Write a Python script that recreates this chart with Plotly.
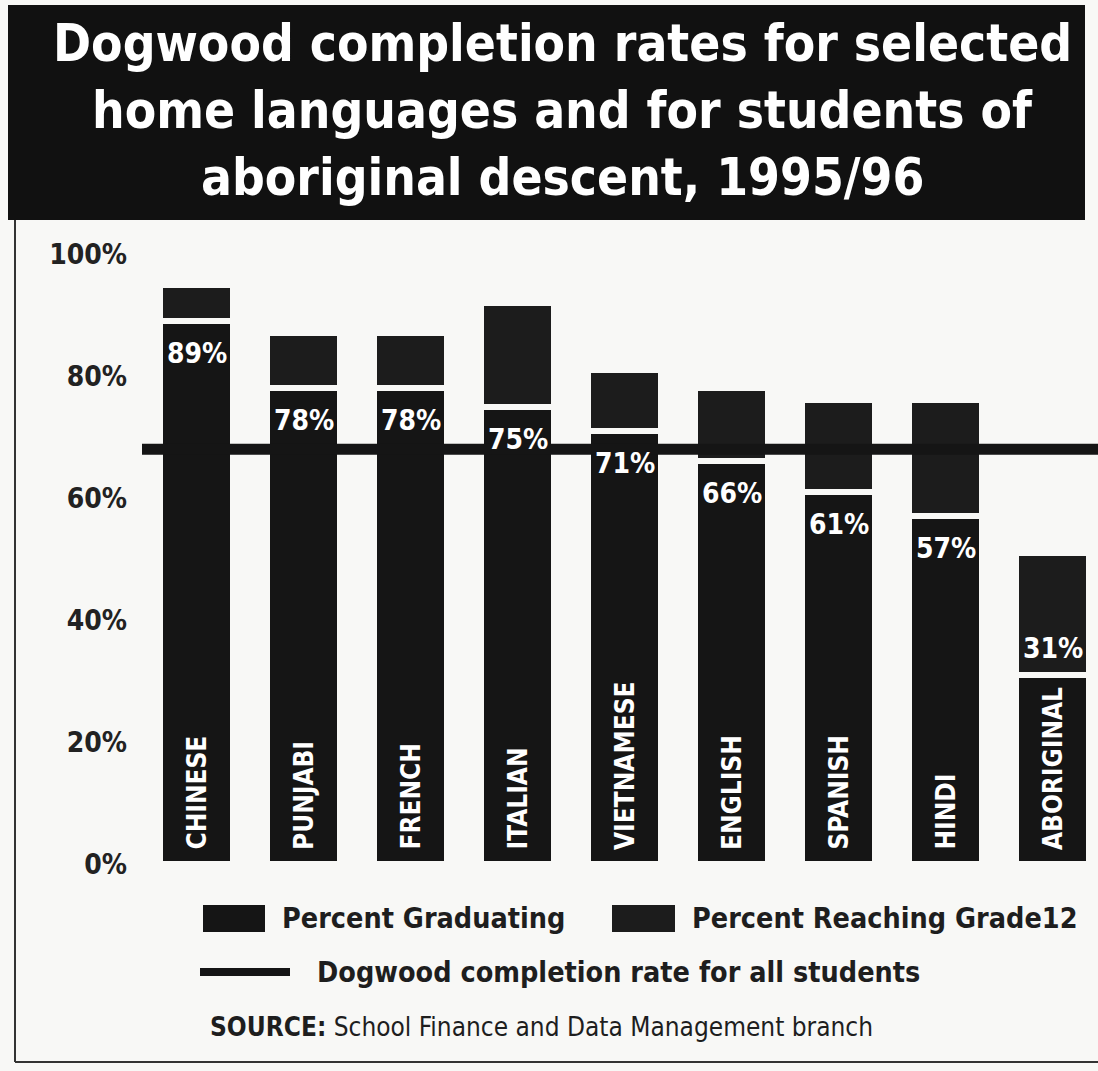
import plotly.graph_objects as go

# ---- data ----
categories = ["CHINESE", "PUNJABI", "FRENCH", "ITALIAN", "VIETNAMESE",
              "ENGLISH", "SPANISH", "HINDI", "ABORIGINAL"]
pct_graduating = [89, 78, 78, 75, 71, 66, 61, 57, 31]
pct_reaching_grade12 = [95, 87, 87, 92, 81, 78, 76, 76, 51]
dogwood_all_students = 68
y_ticks = [0, 20, 40, 60, 80, 100]
y_tick_labels = ["0%", "20%", "40%", "60%", "80%", "100%"]

title_lines = ["Dogwood completion rates for selected",
               "home languages and for students of",
               "aboriginal descent, 1995/96"]
legend_labels = ["Percent Graduating", "Percent Reaching Grade12",
                 "Dogwood completion rate for all students"]
source_text = "<b>SOURCE:</b> School Finance and Data Management branch"

# ---- styling ----
W, H = 1098, 1071
ML, MR, MT, MB = 142, 0, 230, 191
PW, PH = W - ML - MR, H - MT - MB
BG = "#f8f8f6"
INK = "#151515"
NARROW = "Liberation Sans Narrow, Arial Narrow, DejaVu Sans Condensed, sans-serif"

def px(x):
    return (x - ML) / PW

def py(y):
    return (H - MB - y) / PH

idx = list(range(len(categories)))
upper = [r - g for r, g in zip(pct_reaching_grade12, pct_graduating)]

fig = go.Figure()
fig.add_trace(go.Bar(
    x=idx, y=pct_graduating, width=0.69, name=legend_labels[0],
    marker=dict(color=INK, line=dict(color=BG, width=6)),
    customdata=categories,
    hovertemplate="%{customdata}: %{y}%<extra>Percent Graduating</extra>",
))
fig.add_trace(go.Bar(
    x=idx, y=upper, width=0.69, name=legend_labels[1],
    marker=dict(color="#1c1c1c", line=dict(color=BG, width=6)),
    customdata=list(zip(categories, pct_reaching_grade12)),
    hovertemplate="%{customdata[0]}: %{customdata[1]}%<extra>Percent Reaching Grade12</extra>",
))

# completion line for all students
fig.add_shape(type="line", xref="paper", yref="y", x0=0, x1=1,
              y0=dogwood_all_students, y1=dogwood_all_students,
              line=dict(color=INK, width=11), layer="above")

ann = []
# value labels
for i, g in zip(idx, pct_graduating):
    last = (i == len(idx) - 1)
    ann.append(dict(x=i, y=g, xref="x", yref="y", text=f"<b>{g}%</b>",
                    showarrow=False, yanchor="bottom" if last else "top",
                    yshift=8 if last else -14,
                    font=dict(family=NARROW, size=28, color="white")))
# category labels (vertical, inside bars)
for i, c in zip(idx, categories):
    ann.append(dict(x=i, y=0, xref="x", yref="y", text=f"<b>{c}</b>",
                    showarrow=False, textangle=-90, yanchor="bottom",
                    yshift=12, font=dict(family=NARROW, size=26, color="white")))
# title
for line, yc in zip(title_lines, [44, 110, 177]):
    ann.append(dict(x=px(562), y=py(yc), xref="paper", yref="paper",
                    text=f"<b>{line}</b>", showarrow=False,
                    xanchor="center", yanchor="middle",
                    font=dict(family=NARROW, size=51, color="white")))
# legend texts
for text, x0, yc in [(legend_labels[0], 280, 918), (legend_labels[1], 690, 918),
                     (legend_labels[2], 315, 972)]:
    ann.append(dict(x=px(x0), y=py(yc), xref="paper", yref="paper",
                    text=f"<b>{text}</b>", showarrow=False,
                    xanchor="left", yanchor="middle",
                    font=dict(family=NARROW, size=28.5, color="#1e1e1e")))
ann.append(dict(x=px(208), y=py(1027), xref="paper", yref="paper",
                text=source_text, showarrow=False, xanchor="left", yanchor="middle",
                font=dict(family=NARROW, size=26, color="#1e1e1e")))

shapes = [
    # title band
    dict(type="rect", xref="paper", yref="paper", x0=px(8), x1=px(1085),
         y0=py(220), y1=py(5), fillcolor="#111111", line=dict(width=0), layer="below"),
    # frame
    dict(type="line", xref="paper", yref="paper", x0=px(15), x1=px(15),
         y0=py(220), y1=py(1062), line=dict(color="#333", width=2)),
    dict(type="line", xref="paper", yref="paper", x0=px(15), x1=px(1098),
         y0=py(1062), y1=py(1062), line=dict(color="#333", width=2)),
    # legend swatches
    dict(type="rect", xref="paper", yref="paper", x0=px(203), x1=px(265),
         y0=py(932), y1=py(905), fillcolor=INK, line=dict(width=0)),
    dict(type="rect", xref="paper", yref="paper", x0=px(612), x1=px(675),
         y0=py(932), y1=py(905), fillcolor="#1c1c1c", line=dict(width=0)),
    dict(type="line", xref="paper", yref="paper", x0=px(200), x1=px(290),
         y0=py(972), y1=py(972), line=dict(color=INK, width=8)),
]
for s in shapes:
    fig.add_shape(**s)

fig.update_layout(
    width=W, height=H, autosize=False,
    margin=dict(l=ML, r=MR, t=MT, b=MB, pad=0),
    paper_bgcolor=BG, plot_bgcolor=BG,
    barmode="stack", showlegend=False,
    annotations=ann,
    xaxis=dict(range=[-0.5093, 8.4252], visible=False, fixedrange=True),
    yaxis=dict(range=[-2.623, 103.934], tickvals=y_ticks, ticktext=y_tick_labels,
               showgrid=False, zeroline=False, showline=False, ticks="",
               ticklabelstandoff=14,
               tickfont=dict(family=NARROW, size=28, color="#222", weight="bold"),
               fixedrange=True),
)

fig.write_html("out.html")
